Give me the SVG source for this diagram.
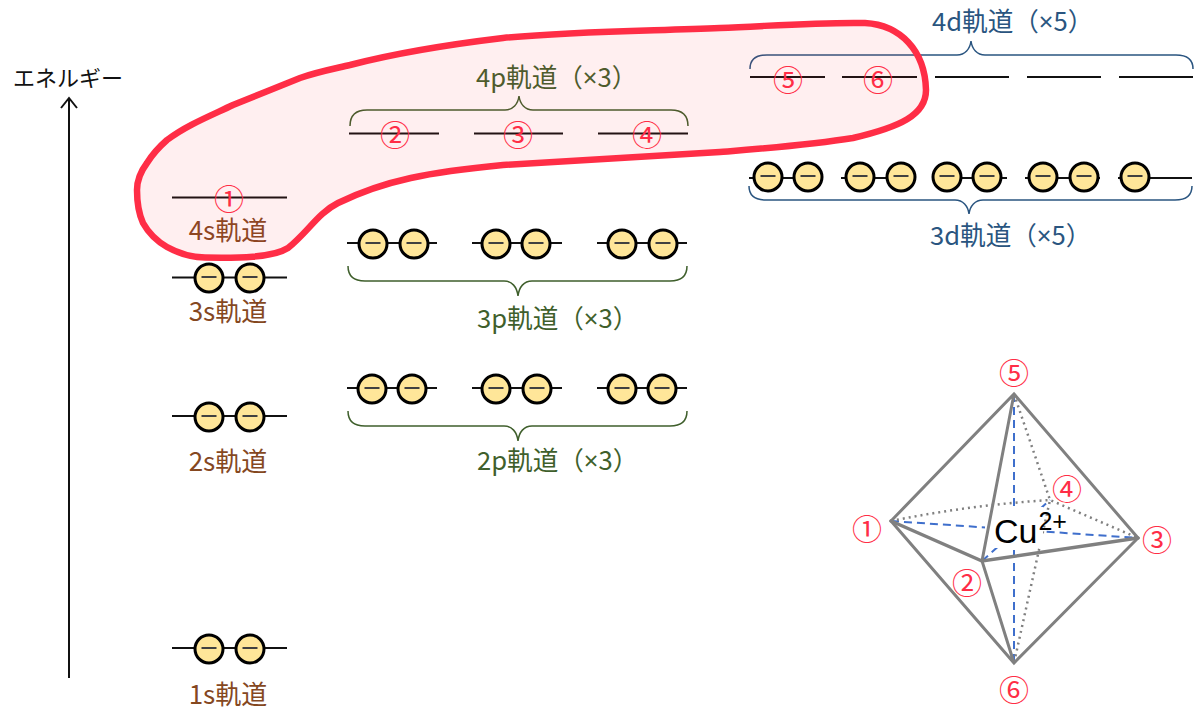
<svg xmlns="http://www.w3.org/2000/svg" width="1200" height="719" viewBox="0 0 1200 719">
<style>
text{font-family:"Noto Sans CJK JP","Noto Sans",sans-serif;font-size:25.600px}
.lv{stroke:#111;stroke-width:2;fill:none}
.s{fill:#85481f;text-anchor:middle;font-size:26px}
.p{fill:#3f5f2c}
.d{fill:#2a5580}
.x{font-family:"Noto Sans",sans-serif}
.num{fill:#ff2d46;text-anchor:middle;dominant-baseline:central;font-size:30px}
.bg{fill:none;stroke:#3f5f2c;stroke-width:1.5}
.bb{fill:none;stroke:#2a5580;stroke-width:1.5}
.ed{fill:none;stroke:#808080;stroke-width:3;stroke-linecap:round}
.dot{fill:none;stroke:#808080;stroke-width:2.500;stroke-dasharray:2 4}
.das{fill:none;stroke:#3f6fcc;stroke-width:2;stroke-dasharray:8 5}
</style>
<defs>
<g id="e"><circle r="14" fill="#ffe699" stroke="#000" stroke-width="3"/><path d="M-7.500 -1H7.500" stroke="#404040" stroke-width="2"/></g>
</defs>
<g id="energy-axis"><text x="13" y="86" style="font-size:22px" fill="#111">エネルギー</text></g>
<g id="connectors">
<path d="M69 678V98M61 108L69 98L77 108" fill="none" stroke="#111" stroke-width="2"/>
<path class="bg" d="M350 126C350 115 356 110 367 110H505C513 110 518 104 519 96C520 104 525 110 533 110H671C682 110 688 115 688 126"/>
<path class="bg" d="M348 266C348 276 354 281 365 281H504C512 281 517 287 518 296C519 287 524 281 532 281H670C681 281 687 276 687 266"/>
<path class="bg" d="M348 411C348 421 354 426 365 426H504C512 426 517 432 518 441C519 432 524 426 532 426H670C681 426 687 421 687 411"/>
<path class="bb" d="M750 69C750 60 756 55 767 55H957C965 55 970 49 971 41C972 49 977 55 985 55H1176C1187 55 1193 60 1193 69"/>
<path class="bb" d="M749 186C749 195 755 200 766 200H955C963 200 968 206 969 214C970 206 975 200 983 200H1175C1186 200 1192 195 1192 186"/>
</g>
<g id="orbital-1s"><path class="lv" d="M172 648H287"/><use href="#e" x="209" y="649"/><use href="#e" x="250" y="649"/><text class="s" x="228" y="704">1s軌道</text></g>
<g id="orbital-2s"><path class="lv" d="M172 416H287"/><use href="#e" x="209" y="417"/><use href="#e" x="250" y="417"/><text class="s" x="228" y="471">2s軌道</text></g>
<g id="orbital-3s"><path class="lv" d="M172 277.500H287"/><use href="#e" x="209" y="278"/><use href="#e" x="250" y="278"/><text class="s" x="228" y="321">3s軌道</text></g>
<g id="orbital-4s"><path class="lv" d="M172 197.500H287"/><text class="s" x="228" y="240">4s軌道</text></g>
<g id="orbital-2p"><path class="lv" d="M347 388H437M472 388H562M597 388H687"/>
<use href="#e" x="372" y="389"/><use href="#e" x="412" y="389"/><use href="#e" x="496" y="389"/><use href="#e" x="537" y="389"/><use href="#e" x="622" y="389"/><use href="#e" x="662" y="389"/><text class="p" x="477" y="470">2p軌道（<tspan class="x">×</tspan>3）</text></g>
<g id="orbital-3p"><path class="lv" d="M347 243H437M472 243H562M597 243H687"/>
<use href="#e" x="373" y="244"/><use href="#e" x="414" y="244"/><use href="#e" x="496" y="244"/><use href="#e" x="536" y="244"/><use href="#e" x="622" y="244"/><use href="#e" x="663" y="244"/><text class="p" x="477" y="328">3p軌道（<tspan class="x">×</tspan>3）</text></g>
<g id="orbital-4p"><path class="lv" d="M349 133.500H439M474 133.500H563M598 133.500H688"/><text class="p" x="476" y="87">4p軌道（<tspan class="x">×</tspan>3）</text></g>
<g id="orbital-3d"><path class="lv" d="M749 178H823M841 178H915M932 178H1007M1025 178H1100M1118 178H1192"/>
<use href="#e" x="768" y="177"/><use href="#e" x="808" y="177"/><use href="#e" x="860" y="177"/><use href="#e" x="901" y="177"/><use href="#e" x="947" y="177"/><use href="#e" x="987" y="177"/><use href="#e" x="1043" y="177"/><use href="#e" x="1084" y="177"/><use href="#e" x="1135" y="177"/><text class="d" x="930" y="245">3d軌道（<tspan class="x">×</tspan>5）</text></g>
<g id="orbital-4d"><path class="lv" d="M750 77H825M842 77H917M935 77H1009M1027 77H1101M1119 77H1193"/><text class="d" x="932" y="31">4d軌道（<tspan class="x">×</tspan>5）</text></g>
<g id="highlight"><path d="M720 28C770 26 820 22 865 23C900 25 925 50 926 90C926 115 900 127 853 138C810 145 770 148 720 152C640 157 560 162 503 165C430 172 385 180 338 203C318 213 308 232 288 248C272 258 238 258 205 257.500C188 257 176 252 167 247C155 240 148 232 143 223C138 212 137 202 137 190C137 180 141 171 147 163C152 155 159 147 167 140C187 125 210 116 233 105C255 96 278 87 300 78C317 72 333 69 350 65C400 52 453 44 503 38C575 31 650 31 720 28Z" fill="#ff2d46" fill-opacity="0.08" stroke="#ff2d46" stroke-width="6.500"/></g>
<g id="orbital-labels">
<text class="num" x="229" y="197">①</text><text class="num" x="395" y="133">②</text><text class="num" x="518" y="133">③</text><text class="num" x="647" y="133">④</text><text class="num" x="788" y="78">⑤</text><text class="num" x="878" y="78">⑥</text>
</g>
<g id="octahedron">
<path class="das" d="M1014 394V663M891 521L1138 538M982 561L1050 500"/>
<path class="dot" d="M891 521Q970 505 1050 500L1138 538M1014 394L1050 500L1014 663"/>
<rect x="985" y="507" width="58" height="41" fill="#fff"/>
<path class="ed" d="M891 521L1014 394L1138 538L1014 663L891 521M1014 394L982 561L1014 663"/>
<path class="ed" style="stroke-width:3.500" d="M891 521L982 561L1138 538"/>
<text x="994" y="543" style="font-family:'Liberation Sans',sans-serif;font-size:34px" fill="#000">Cu<tspan dx="1" dy="-13" style="font-size:25px">2+</tspan></text>
<text class="num" x="1014" y="371">⑤</text><text class="num" x="867" y="527">①</text><text class="num" x="967" y="581">②</text><text class="num" x="1157" y="538">③</text><text class="num" x="1067" y="487">④</text><text class="num" x="1014" y="688">⑥</text>
</g>
</svg>
